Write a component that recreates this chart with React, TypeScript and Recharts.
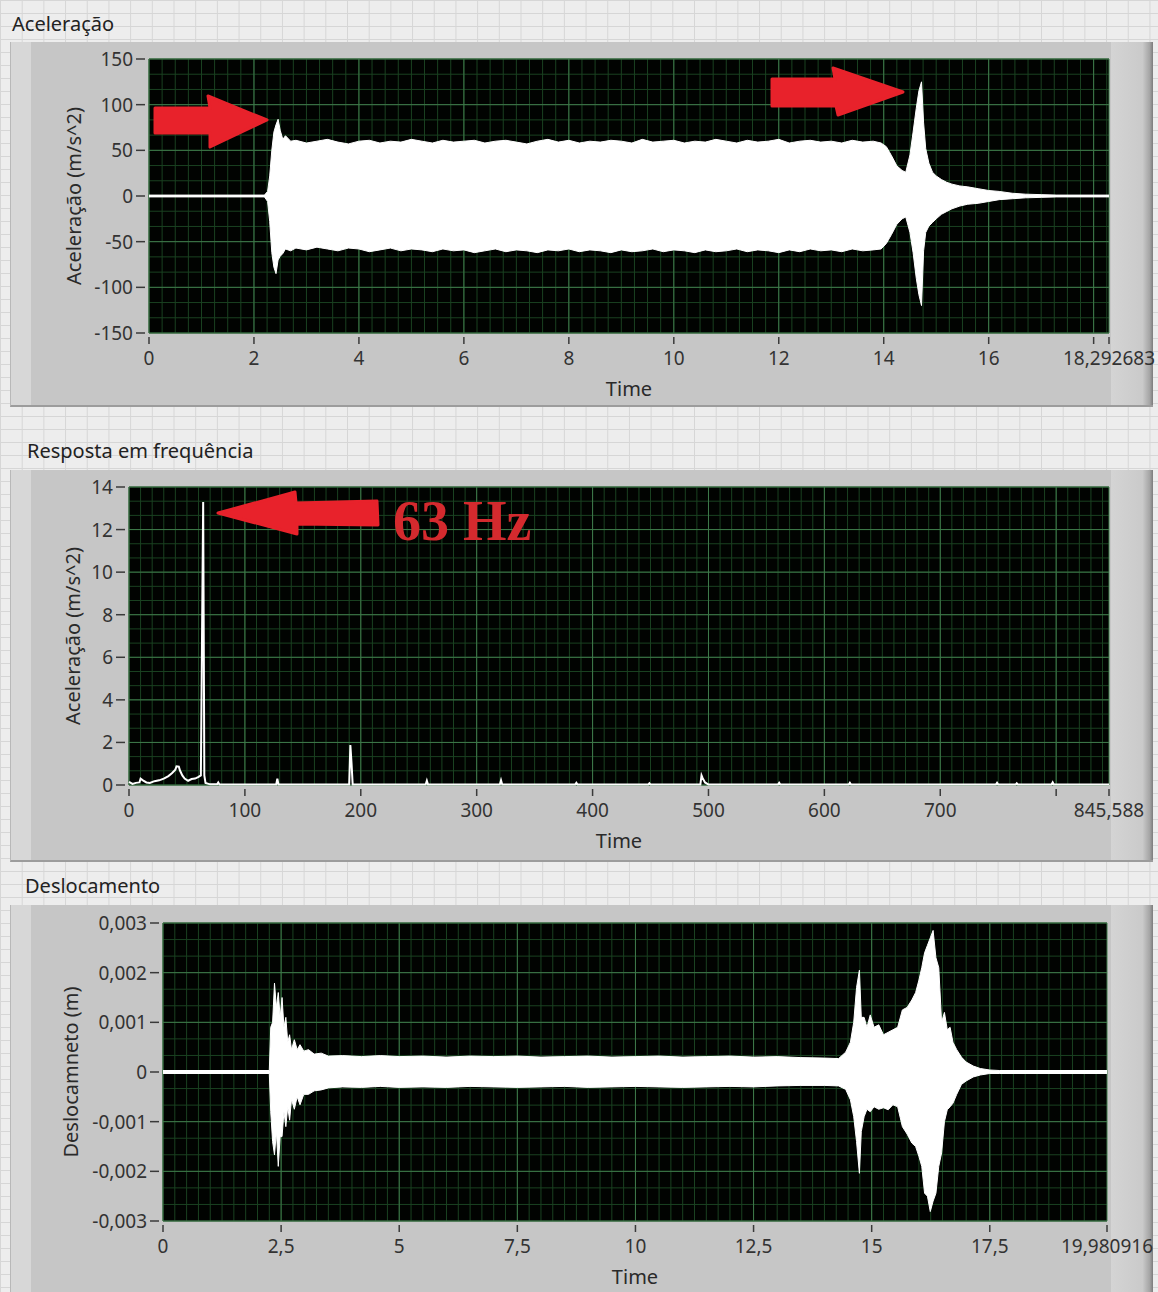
import React from 'react';
import { ComposedChart, Area, Line, XAxis, YAxis, CartesianGrid, Label } from 'recharts';

const FONT = '"Noto Sans", "Open Sans", "DejaVu Sans", sans-serif';
const TEXT = '#333';
const MINOR = '#1a4221';
const MAJOR = '#3f7a4b';
const RED = '#e8222b';

// aceleração no tempo: [t (s), mínimo, máximo] da envoltória do sinal
const accEnvelope: [number, number, number][] = [
  [0, -1, 1], [2.2, -1, 1], [2.26, -6, 5], [2.3, -28, 22], [2.34, -62, 50], [2.38, -78, 70],
  [2.42, -85, 78], [2.46, -70, 84], [2.5, -66, 72], [2.55, -63, 62], [2.6, -58, 66], [2.7, -60, 60],
  [2.8, -57, 61], [3, -59, 58], [3.2, -56, 60], [3.4, -58, 62], [3.6, -60, 59], [3.8, -57, 57],
  [4, -58, 60], [4.2, -61, 61], [4.4, -59, 58], [4.6, -57, 60], [4.8, -60, 59], [5, -58, 62],
  [5.2, -59, 60], [5.4, -61, 58], [5.6, -58, 61], [5.8, -60, 59], [6, -59, 60], [6.2, -62, 61],
  [6.4, -60, 58], [6.6, -58, 60], [6.8, -61, 61], [7, -59, 59], [7.2, -60, 57], [7.4, -62, 60],
  [7.6, -59, 62], [7.8, -60, 59], [8, -58, 61], [8.2, -61, 58], [8.4, -59, 60], [8.6, -60, 59],
  [8.8, -62, 61], [9, -59, 60], [9.2, -61, 58], [9.4, -60, 62], [9.6, -58, 59], [9.8, -61, 60],
  [10, -59, 61], [10.2, -60, 58], [10.4, -62, 60], [10.6, -59, 59], [10.8, -61, 62], [11, -60, 60],
  [11.2, -58, 58], [11.4, -61, 61], [11.6, -59, 59], [11.8, -60, 60], [12, -62, 62], [12.2, -59, 58],
  [12.4, -61, 60], [12.6, -58, 61], [12.8, -60, 59], [13, -59, 60], [13.2, -61, 58], [13.4, -58, 61],
  [13.6, -60, 59], [13.8, -59, 60], [13.95, -58, 58], [14.05, -52, 54], [14.15, -42, 44], [14.25, -31, 33],
  [14.35, -25, 28], [14.42, -23, 26], [14.5, -40, 45], [14.56, -62, 70], [14.62, -90, 96], [14.67, -108, 115],
  [14.72, -120, 125], [14.76, -60, 80], [14.8, -40, 52], [14.86, -33, 36], [14.93, -29, 26], [15, -25, 22],
  [15.1, -20, 18], [15.2, -17, 15], [15.3, -14, 13], [15.45, -11, 11], [15.6, -9, 10], [15.8, -8, 8],
  [16, -6, 6], [16.2, -4, 5], [16.45, -3, 3], [16.7, -2, 2], [17, -1.5, 1.5], [17.3, -1, 1],
  [18.292683, -1, 1],
];
const accXTicks = [0, 2, 4, 6, 8, 10, 12, 14, 16, 18, 18.292683];
const accYTicks = [-150, -100, -50, 0, 50, 100, 150];

// resposta em frequência: [f (Hz), amplitude]
const freqSpectrum: [number, number][] = [
  [0, 0.15], [3, 0.05], [6, 0.1], [9, 0.12], [10, 0.3], [12, 0.22], [15, 0.12], [18, 0.1],
  [22, 0.18], [26, 0.22], [30, 0.3], [34, 0.42], [37, 0.55], [40, 0.72], [41, 0.88], [43, 0.86],
  [44, 0.68], [46, 0.45], [48, 0.3], [51, 0.2], [54, 0.28], [57, 0.3], [60, 0.38], [62, 0.45],
  [63, 6.9], [64, 13.3], [65, 0.45], [66, 0.1], [70, 0.03], [76, 0.03], [77, 0.12], [78, 0.02],
  [127, 0.02], [128, 0.3], [129, 0.02], [190, 0.02], [191, 1.88], [192, 1.03], [193, 0.02],
  [256, 0.02], [257, 0.2], [258, 0.02], [320, 0.02], [321, 0.22], [322, 0.02], [385, 0.02],
  [386, 0.1], [387, 0.02], [448, 0.02], [449, 0.08], [450, 0.02], [493, 0.02], [494, 0.45],
  [495, 0.32], [497, 0.12], [500, 0.02], [560, 0.02], [561, 0.1], [562, 0.02], [621, 0.02],
  [622, 0.1], [623, 0.02], [748, 0.02], [749, 0.1], [750, 0.02], [765, 0.02], [766, 0.08],
  [767, 0.02], [796, 0.02], [797, 0.12], [798, 0.02], [845.588, 0.02],
];
const freqXTicks = [0, 100, 200, 300, 400, 500, 600, 700, 800, 845.588];
const freqYTicks = [0, 2, 4, 6, 8, 10, 12, 14];

// deslocamento: [t (s), mínimo, máximo] em metros
const dispEnvelope: [number, number, number][] = [
  [0, -0.00003, 0.00003], [2.25, -0.00003, 0.00003], [2.28, -0.0008, 0.0009], [2.32, -0.0014, 0.001],
  [2.36, -0.00167, 0.00179], [2.4, -0.0012, 0.0013], [2.44, -0.0019, 0.0016], [2.48, -0.0013, 0.0011],
  [2.52, -0.0013, 0.0015], [2.56, -0.0008, 0.0009], [2.6, -0.0011, 0.0011], [2.64, -0.0007, 0.0006],
  [2.68, -0.00097, 0.00075], [2.72, -0.00055, 0.00045], [2.78, -0.00075, 0.00065], [2.84, -0.0005, 0.00045],
  [2.9, -0.00066, 0.00055], [2.98, -0.00045, 0.00042], [3.08, -0.00045, 0.00045], [3.2, -0.00038, 0.00036],
  [3.35, -0.00036, 0.00038], [3.5, -0.00032, 0.00032], [3.8, -0.0003, 0.00033], [4.2, -0.00031, 0.00031],
  [4.6, -0.00029, 0.00033], [5, -0.00031, 0.00031], [5.5, -0.0003, 0.00032], [6, -0.00031, 0.0003],
  [6.5, -0.00029, 0.00032], [7, -0.0003, 0.00031], [7.5, -0.00031, 0.00032], [8, -0.0003, 0.0003],
  [8.5, -0.00029, 0.00031], [9, -0.00031, 0.00032], [9.5, -0.0003, 0.0003], [10, -0.00029, 0.00031],
  [10.5, -0.0003, 0.00032], [11, -0.00031, 0.0003], [11.5, -0.0003, 0.00031], [12, -0.00029, 0.00032],
  [12.5, -0.0003, 0.0003], [13, -0.00028, 0.00031], [13.5, -0.00027, 0.00029], [14, -0.00027, 0.00028],
  [14.3, -0.00028, 0.00027], [14.45, -0.00035, 0.0004], [14.55, -0.00056, 0.0006], [14.62, -0.0009, 0.001],
  [14.68, -0.0014, 0.0017], [14.74, -0.00204, 0.00205], [14.78, -0.0012, 0.0011], [14.84, -0.0009, 0.0011],
  [14.9, -0.00075, 0.0009], [14.97, -0.0008, 0.00115], [15.05, -0.0007, 0.0009], [15.15, -0.00075, 0.00095],
  [15.25, -0.00072, 0.00075], [15.35, -0.00076, 0.0008], [15.45, -0.00066, 0.00085], [15.55, -0.0007, 0.0009],
  [15.65, -0.0011, 0.00125], [15.75, -0.00125, 0.0013], [15.85, -0.00143, 0.00145], [15.93, -0.0015, 0.0016],
  [16, -0.0017, 0.00185], [16.06, -0.0019, 0.0021], [16.12, -0.00244, 0.0024], [16.18, -0.0025, 0.00255],
  [16.24, -0.00281, 0.0027], [16.3, -0.0026, 0.00285], [16.36, -0.00244, 0.0023], [16.42, -0.0019, 0.0021],
  [16.48, -0.00163, 0.001], [16.54, -0.001, 0.0012], [16.6, -0.00076, 0.00085], [16.66, -0.0007, 0.0009],
  [16.72, -0.00063, 0.0006], [16.8, -0.00045, 0.00045], [16.9, -0.00025, 0.0003], [17, -0.00018, 0.0002],
  [17.15, -0.0001, 0.00012], [17.3, -0.00006, 0.00007], [17.5, -0.00003, 0.00004], [17.7, -0.00003, 0.00003],
  [19.980916, -0.00003, 0.00003],
];
const dispXTicks = [0, 2.5, 5, 7.5, 10, 12.5, 15, 17.5, 19.980916];
const dispYTicks = [-0.003, -0.002, -0.001, 0, 0.001, 0.002, 0.003];

const accRows = accEnvelope.map(([t, lo, hi]) => ({ t, band: [lo, hi] }));
const freqRows = freqSpectrum.map(([f, a]) => ({ f, a }));
const dispRows = dispEnvelope.map(([t, lo, hi]) => ({ t, band: [lo, hi] }));

const fmt = (v: number) => String(v).replace('.', ',');

const steps = (from: number, to: number, step: number) => {
  const out: number[] = [];
  for (let i = 0; from + i * step <= to + 1e-9; i++) out.push(from + i * step);
  return out;
};

type Cfg = {
  top: number;
  height: number;
  plot: { left: number; top: number; right: number; bottom: number };
  xDomain: [number, number];
  xTicks: number[];
  xHidden: number[];
  xMinor: number;
  yDomain: [number, number];
  yTicks: number[];
  yMinor: number;
  yTitle: string;
  yTitleX: number;
};

const W = 1158;
const Y_AXIS_W = 60;
const X_AXIS_H = 60;

const Plot = ({ cfg, data, xKey, children }: any) => {
  const c: Cfg = cfg;
  const margin = {
    top: c.plot.top - c.top,
    left: c.plot.left - Y_AXIS_W,
    right: W - c.plot.right,
    bottom: c.top + c.height - c.plot.bottom - X_AXIS_H,
  };
  const minorX = steps(c.xDomain[0], c.xDomain[1], c.xMinor);
  const minorY = steps(c.yDomain[0], c.yDomain[1], c.yMinor);
  const midY = (c.plot.top + c.plot.bottom) / 2 - c.top;

  return (
    <div style={{ position: 'absolute', left: 0, top: c.top }}>
      <ComposedChart width={W} height={c.height} data={data} margin={margin}>
        <CartesianGrid fill="#010301" stroke={MINOR} horizontalValues={minorY} verticalValues={minorX} />
        <CartesianGrid stroke={MAJOR} horizontalValues={c.yTicks} verticalValues={c.xTicks} />
        <XAxis
          type="number"
          dataKey={xKey}
          domain={c.xDomain}
          ticks={c.xTicks}
          interval={0}
          height={X_AXIS_H}
          axisLine={false}
          tickLine={false}
          tickSize={0}
          tickMargin={0}
          tick={(p: any) => (
            <g>
              <line x1={p.x} x2={p.x} y1={p.y + 4} y2={p.y + 11} stroke="#3a3a3a" strokeWidth={1.5} />
              {!c.xHidden.includes(p.payload.value) && (
                <text x={p.x} y={p.y + 32} textAnchor="middle" fontFamily={FONT} fontSize={19} fill={TEXT}>
                  {fmt(p.payload.value)}
                </text>
              )}
            </g>
          )}
        >
          <Label
            content={(p: any) => (
              <text
                x={p.viewBox.x + p.viewBox.width / 2}
                y={p.viewBox.y + 63}
                textAnchor="middle"
                fontFamily={FONT}
                fontSize={20}
                fill="#2a2a2a"
              >
                Time
              </text>
            )}
          />
        </XAxis>
        <YAxis
          type="number"
          domain={c.yDomain}
          ticks={c.yTicks}
          interval={0}
          width={Y_AXIS_W}
          axisLine={false}
          tickLine={false}
          tickSize={0}
          tickMargin={0}
          tick={(p: any) => (
            <g>
              <line x1={p.x - 13} x2={p.x - 4} y1={p.y} y2={p.y} stroke="#3a3a3a" strokeWidth={1.5} />
              <text x={p.x - 16} y={p.y + 7} textAnchor="end" fontFamily={FONT} fontSize={19} fill={TEXT}>
                {fmt(p.payload.value)}
              </text>
            </g>
          )}
        >
          <Label
            content={() => (
              <text
                x={c.yTitleX}
                y={midY}
                transform={`rotate(-90 ${c.yTitleX} ${midY})`}
                textAnchor="middle"
                dominantBaseline="central"
                fontFamily={FONT}
                fontSize={20}
                fill="#2a2a2a"
              >
                {c.yTitle}
              </text>
            )}
          />
        </YAxis>
        {children}
      </ComposedChart>
    </div>
  );
};

const accCfg: Cfg = {
  top: 42, height: 365,
  plot: { left: 149, top: 59, right: 1109, bottom: 333 },
  xDomain: [0, 18.292683], xTicks: accXTicks, xHidden: [18], xMinor: 0.25,
  yDomain: [-150, 150], yTicks: accYTicks, yMinor: 50 / 3,
  yTitle: 'Aceleração (m/s^2)', yTitleX: 73,
};

const freqCfg: Cfg = {
  top: 470, height: 392,
  plot: { left: 129, top: 487, right: 1109, bottom: 785 },
  xDomain: [0, 845.588], xTicks: freqXTicks, xHidden: [800], xMinor: 10,
  yDomain: [0, 14], yTicks: freqYTicks, yMinor: 2 / 3,
  yTitle: 'Aceleração (m/s^2)', yTitleX: 72,
};

const dispCfg: Cfg = {
  top: 905, height: 387,
  plot: { left: 163, top: 923, right: 1107, bottom: 1221 },
  xDomain: [0, 19.980916], xTicks: dispXTicks, xHidden: [], xMinor: 0.25,
  yDomain: [-0.003, 0.003], yTicks: dispYTicks, yMinor: 0.001 / 3,
  yTitle: 'Deslocamneto (m)', yTitleX: 70,
};

const Frame = ({ top, bottom }: { top: number; bottom: number }) => (
  <div
    style={{
      position: 'absolute',
      left: 10,
      top,
      width: 1143,
      height: bottom - top,
      boxSizing: 'border-box',
      background: 'linear-gradient(to right, #d7d7d7 0px, #d7d7d7 20px, #c6c6c6 20px)',
      borderLeft: '1px solid #b8b8b8',
      borderBottom: '2px solid #9c9c9c',
    }}
  >
    <div
      style={{
        position: 'absolute',
        left: 1100,
        top: 0,
        bottom: 0,
        width: 42,
        background: 'linear-gradient(to right, #d4d4d4, #cacaca 75%, #a5a5a5 92%, #7c7c7c)',
      }}
    />
  </div>
);

export default function App() {
  return (
    <div
      style={{
        position: 'absolute',
        left: 0,
        top: 0,
        width: 1158,
        height: 1292,
        overflow: 'hidden',
        backgroundColor: '#ededed',
        backgroundImage:
          'linear-gradient(to right, #d6d6d6 1px, transparent 1px), linear-gradient(to bottom, #d6d6d6 1px, transparent 1px)',
        backgroundSize: '21.7px 13px',
      }}
    >
      <Frame top={42} bottom={407} />
      <Frame top={470} bottom={862} />
      <Frame top={905} bottom={1300} />

      <Plot cfg={accCfg} data={accRows} xKey="t">
        <Area
          type="linear"
          dataKey="band"
          stroke="#fff"
          strokeWidth={1}
          fill="#fff"
          fillOpacity={1}
          dot={false}
          activeDot={false}
          isAnimationActive={false}
        />
      </Plot>

      <Plot cfg={freqCfg} data={freqRows} xKey="f">
        <Line
          type="linear"
          dataKey="a"
          stroke="#fff"
          strokeWidth={2}
          dot={false}
          activeDot={false}
          isAnimationActive={false}
        />
      </Plot>

      <Plot cfg={dispCfg} data={dispRows} xKey="t">
        <Area
          type="linear"
          dataKey="band"
          stroke="#fff"
          strokeWidth={1}
          fill="#fff"
          fillOpacity={1}
          dot={false}
          activeDot={false}
          isAnimationActive={false}
        />
      </Plot>

      <svg
        width={1158}
        height={1292}
        style={{ position: 'absolute', left: 0, top: 0, pointerEvents: 'none' }}
      >
        <g fontFamily={FONT} fontSize={20} fill="#222">
          <text x={12} y={31}>Aceleração</text>
          <text x={27} y={458}>Resposta em frequência</text>
          <text x={25} y={893}>Deslocamento</text>
        </g>
        <polygon
          points="155,108 210,108 208,96 267,120 210,147 210,133 155,133"
          fill={RED}
          stroke={RED}
          strokeLinejoin="round"
          strokeWidth={3}
        />
        <polygon
          points="772,79 835,79 833,68 903,92 838,115 836,106 772,106"
          fill={RED}
          stroke={RED}
          strokeLinejoin="round"
          strokeWidth={3}
        />
        <polygon
          points="218,513 295,492 296,503 377,501 378,525 297,524 297,534"
          fill={RED}
          stroke={RED}
          strokeLinejoin="round"
          strokeWidth={3}
        />
        <text
          x={393}
          y={540}
          fontFamily='"Liberation Serif", "Times New Roman", serif'
          fontWeight="bold"
          fontSize={56}
          fill="#d42a2e"
        >
          63 Hz
        </text>
      </svg>
    </div>
  );
}
